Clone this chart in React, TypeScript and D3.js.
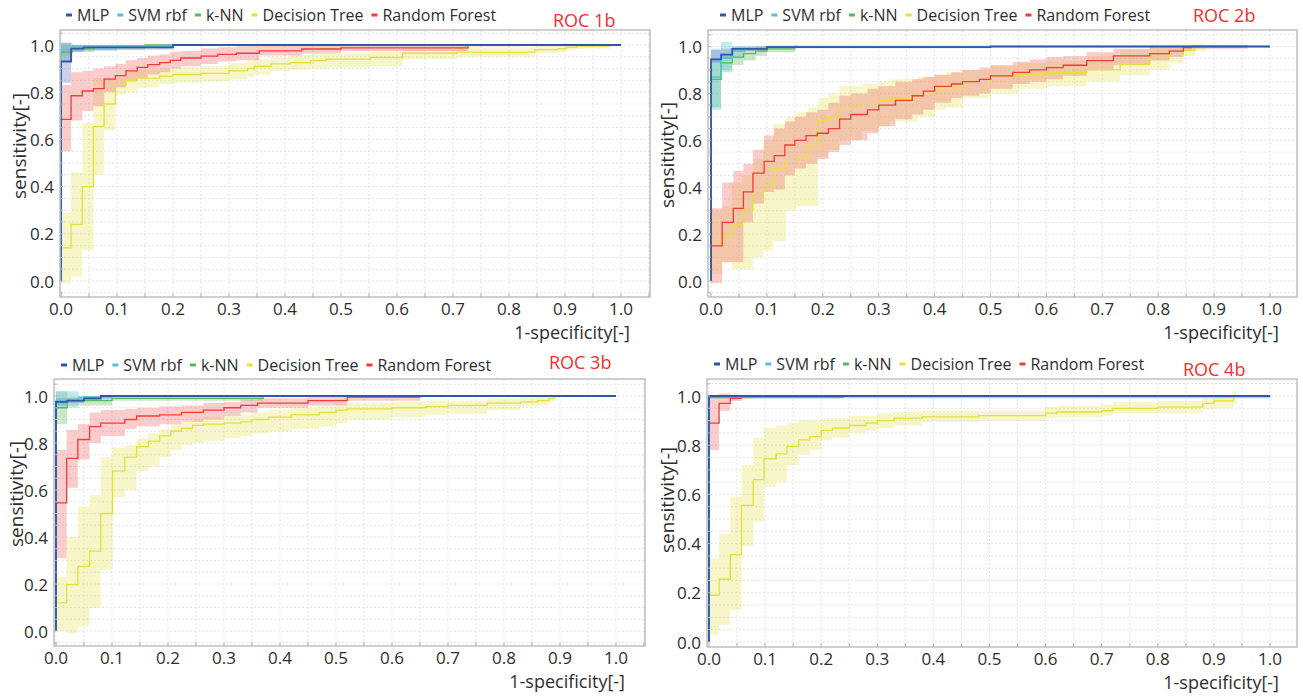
import React from "react";
import * as d3 from "d3";

// Each step: [x (1-specificity) where the step starts, sensitivity, band lower, band upper]
type Step = [number, number, number, number];

const seriesNames = ["MLP", "SVM rbf", "k-NN", "Decision Tree", "Random Forest"];
const lineColors = ["#2f57ab", "#55c3d8", "#5cb85c", "#e2e23a", "#f03c3c"];
const bandColors = ["#6f7fc6", "#58c6d6", "#6ec06e", "#e6e66a", "#f07272"];
const panelTitles = ["ROC 1b", "ROC 2b", "ROC 3b", "ROC 4b"];
const xTickValues = [0, 0.1, 0.2, 0.3, 0.4, 0.5, 0.6, 0.7, 0.8, 0.9, 1.0];
const yTickValues = [0, 0.2, 0.4, 0.6, 0.8, 1.0];
const xAxisTitle = "1-specificity[-]";
const yAxisTitle = "sensitivity[-]";

// ---------- ROC 1b ----------
const roc1MLP: Step[] = [
  [0, 0.93, 0.84, 1.01], [0.018, 0.985, 0.97, 1.0], [0.04, 0.99, 0.98, 1.0], [0.2, 1.0, 1.0, 1.0], [1.0, 1.0, 1.0, 1.0],
];
const roc1SVM: Step[] = [
  [0, 0.98, 0.955, 1.01], [0.02, 0.99, 0.975, 1.0], [0.1, 0.995, 0.99, 1.0], [0.2, 1.0, 1.0, 1.0], [0.6, 1.0, 1.0, 1.0],
];
const roc1KNN: Step[] = [
  [0, 0.97, 0.93, 1.0], [0.02, 0.985, 0.97, 1.0], [0.06, 0.99, 0.98, 1.0], [0.15, 1.0, 1.0, 1.0], [0.3, 1.0, 1.0, 1.0],
];
const roc1DT: Step[] = [
  [0, 0.14, -0.01, 0.29], [0.018, 0.24, 0.02, 0.46], [0.038, 0.4, 0.13, 0.67], [0.058, 0.655, 0.45, 0.86],
  [0.077, 0.75, 0.64, 0.86], [0.097, 0.83, 0.79, 0.87], [0.116, 0.85, 0.8, 0.89], [0.136, 0.86, 0.82, 0.895],
  [0.176, 0.868, 0.835, 0.9], [0.2, 0.875, 0.84, 0.905], [0.25, 0.88, 0.845, 0.91], [0.3, 0.89, 0.855, 0.925],
  [0.333, 0.9, 0.865, 0.935], [0.345, 0.91, 0.875, 0.94], [0.375, 0.92, 0.89, 0.95], [0.41, 0.925, 0.895, 0.96],
  [0.446, 0.934, 0.9, 0.965], [0.473, 0.94, 0.905, 0.965], [0.553, 0.947, 0.91, 0.97], [0.61, 0.965, 0.94, 0.985],
  [0.707, 0.97, 0.95, 0.99], [0.846, 0.98, 0.965, 0.995], [0.888, 0.985, 0.97, 1.0], [0.903, 0.99, 0.98, 1.0],
  [0.921, 0.995, 0.985, 1.0], [0.98, 1.0, 1.0, 1.0],
];
const roc1RF: Step[] = [
  [0, 0.685, 0.55, 0.83], [0.018, 0.785, 0.68, 0.885], [0.038, 0.805, 0.72, 0.89], [0.058, 0.815, 0.74, 0.9],
  [0.077, 0.855, 0.8, 0.91], [0.097, 0.87, 0.82, 0.92], [0.116, 0.89, 0.845, 0.935], [0.136, 0.905, 0.86, 0.945],
  [0.155, 0.917, 0.875, 0.955], [0.176, 0.925, 0.885, 0.96], [0.195, 0.935, 0.9, 0.97], [0.214, 0.945, 0.91, 0.975],
  [0.25, 0.953, 0.92, 0.985], [0.28, 0.96, 0.93, 0.99], [0.313, 0.965, 0.935, 0.995], [0.354, 0.975, 0.955, 1.0],
  [0.43, 0.983, 0.965, 1.0], [0.5, 0.988, 0.975, 1.0], [0.727, 1.0, 0.995, 1.0], [0.82, 1.0, 1.0, 1.0],
];

// ---------- ROC 2b ----------
const roc2MLP: Step[] = [
  [0, 0.945, 0.93, 0.985], [0.018, 0.965, 0.95, 0.99], [0.038, 0.99, 0.98, 1.0], [0.1, 0.997, 0.993, 1.0], [0.5, 1.0, 1.0, 1.0], [1.0, 1.0, 1.0, 1.0],
];
const roc2SVM: Step[] = [
  [0, 0.87, 0.73, 0.99], [0.018, 0.95, 0.9, 1.02], [0.038, 0.98, 0.95, 1.0], [0.06, 0.99, 0.98, 1.0], [0.1, 1.0, 1.0, 1.0], [1.0, 1.0, 1.0, 1.0],
];
const roc2KNN: Step[] = [
  [0, 0.86, 0.74, 0.95], [0.018, 0.93, 0.89, 0.97], [0.038, 0.955, 0.92, 0.99], [0.058, 0.97, 0.94, 0.995],
  [0.08, 0.98, 0.96, 1.0], [0.1, 0.99, 0.975, 1.0], [0.15, 1.0, 1.0, 1.0], [0.155, 1.0, 1.0, 1.0],
];
const roc2DT: Step[] = [
  [0, 0.17, 0.03, 0.3], [0.02, 0.2, 0.08, 0.32], [0.037, 0.24, 0.05, 0.42], [0.056, 0.305, 0.05, 0.45],
  [0.075, 0.365, 0.1, 0.52], [0.093, 0.405, 0.13, 0.6], [0.111, 0.48, 0.17, 0.67], [0.134, 0.51, 0.3, 0.7],
  [0.152, 0.52, 0.32, 0.72], [0.173, 0.585, 0.32, 0.74], [0.192, 0.685, 0.53, 0.78], [0.21, 0.7, 0.56, 0.8],
  [0.23, 0.74, 0.6, 0.83], [0.27, 0.75, 0.64, 0.84], [0.3, 0.77, 0.66, 0.85], [0.32, 0.78, 0.68, 0.86],
  [0.37, 0.8, 0.7, 0.87], [0.4, 0.82, 0.73, 0.88], [0.42, 0.83, 0.74, 0.89], [0.45, 0.85, 0.78, 0.9],
  [0.5, 0.87, 0.8, 0.92], [0.55, 0.88, 0.82, 0.93], [0.6, 0.89, 0.83, 0.94], [0.672, 0.9, 0.85, 0.96],
  [0.732, 0.925, 0.877, 0.985], [0.785, 0.955, 0.9, 1.005], [0.82, 0.97, 0.93, 1.008], [0.845, 0.985, 0.96, 1.01],
  [0.866, 1.0, 0.98, 1.01], [0.885, 1.0, 1.0, 1.0],
];
const roc2RF: Step[] = [
  [0, 0.15, -0.01, 0.31], [0.02, 0.25, 0.08, 0.42], [0.04, 0.31, 0.08, 0.47], [0.058, 0.38, 0.25, 0.5],
  [0.075, 0.46, 0.33, 0.56], [0.095, 0.51, 0.38, 0.62], [0.113, 0.535, 0.39, 0.65], [0.132, 0.58, 0.45, 0.68],
  [0.15, 0.6, 0.48, 0.7], [0.17, 0.62, 0.5, 0.72], [0.19, 0.63, 0.52, 0.73], [0.21, 0.65, 0.55, 0.76],
  [0.23, 0.69, 0.58, 0.79], [0.25, 0.71, 0.6, 0.8], [0.28, 0.73, 0.63, 0.82], [0.3, 0.75, 0.66, 0.83],
  [0.33, 0.77, 0.69, 0.85], [0.36, 0.79, 0.71, 0.86], [0.38, 0.81, 0.73, 0.87], [0.4, 0.83, 0.76, 0.88],
  [0.43, 0.84, 0.78, 0.89], [0.45, 0.85, 0.79, 0.9], [0.48, 0.86, 0.8, 0.91], [0.5, 0.875, 0.82, 0.92],
  [0.54, 0.89, 0.84, 0.935], [0.57, 0.9, 0.85, 0.945], [0.6, 0.91, 0.86, 0.955], [0.63, 0.92, 0.875, 0.96],
  [0.672, 0.94, 0.9, 0.975], [0.72, 0.96, 0.92, 0.99], [0.785, 0.97, 0.94, 1.0], [0.82, 0.98, 0.955, 1.0],
  [0.845, 0.995, 0.98, 1.0], [0.86, 1.0, 0.99, 1.005], [0.96, 1.0, 1.0, 1.0],
];

// ---------- ROC 3b ----------
const roc3MLP: Step[] = [
  [0, 0.975, 0.96, 0.99], [0.02, 0.98, 0.97, 0.99], [0.05, 0.99, 0.98, 1.0], [0.08, 1.0, 1.0, 1.0], [1.0, 1.0, 1.0, 1.0],
];
const roc3SVM: Step[] = [
  [0, 0.98, 0.95, 1.02], [0.04, 0.995, 0.985, 1.0], [0.1, 1.0, 1.0, 1.0], [0.9, 1.0, 1.0, 1.0],
];
const roc3KNN: Step[] = [
  [0, 0.95, 0.88, 1.02], [0.02, 0.98, 0.96, 0.995], [0.1, 0.99, 0.98, 1.0], [0.37, 0.995, 0.99, 1.0],
];
const roc3DT: Step[] = [
  [0, 0.12, 0.0, 0.23], [0.019, 0.197, -0.01, 0.4], [0.039, 0.275, 0.02, 0.53], [0.06, 0.34, 0.1, 0.58],
  [0.08, 0.5, 0.26, 0.74], [0.101, 0.68, 0.57, 0.78], [0.123, 0.74, 0.6, 0.79], [0.144, 0.785, 0.68, 0.82],
  [0.165, 0.808, 0.7, 0.84], [0.185, 0.83, 0.74, 0.86], [0.205, 0.85, 0.77, 0.88], [0.224, 0.862, 0.79, 0.89],
  [0.244, 0.875, 0.8, 0.9], [0.263, 0.88, 0.81, 0.91], [0.3, 0.885, 0.82, 0.915], [0.33, 0.89, 0.83, 0.92],
  [0.35, 0.9, 0.84, 0.93], [0.38, 0.91, 0.85, 0.94], [0.42, 0.92, 0.86, 0.95], [0.47, 0.93, 0.87, 0.955],
  [0.5, 0.94, 0.885, 0.965], [0.52, 0.945, 0.9, 0.97], [0.6, 0.95, 0.91, 0.975], [0.66, 0.955, 0.92, 0.98],
  [0.7, 0.96, 0.925, 0.98], [0.77, 0.97, 0.94, 0.99], [0.83, 0.975, 0.955, 0.995], [0.86, 0.98, 0.96, 1.0],
  [0.88, 0.99, 0.975, 1.0], [0.89, 1.0, 0.99, 1.0], [0.9, 1.0, 1.0, 1.0],
];
const roc3RF: Step[] = [
  [0, 0.545, 0.31, 0.77], [0.019, 0.735, 0.61, 0.855], [0.039, 0.815, 0.73, 0.88], [0.06, 0.87, 0.8, 0.93],
  [0.08, 0.885, 0.83, 0.94], [0.123, 0.9, 0.86, 0.945], [0.144, 0.915, 0.87, 0.95], [0.185, 0.92, 0.88, 0.955],
  [0.224, 0.93, 0.89, 0.96], [0.263, 0.94, 0.9, 0.97], [0.3, 0.95, 0.915, 0.975], [0.33, 0.96, 0.93, 0.985],
  [0.36, 0.97, 0.95, 0.99], [0.45, 0.98, 0.96, 0.995], [0.52, 0.995, 0.98, 1.0], [0.65, 1.0, 1.0, 1.0],
];

// ---------- ROC 4b ----------
const roc4MLP: Step[] = [[0, 1.0, 1.0, 1.0], [1.0, 1.0, 1.0, 1.0]];
const roc4SVM: Step[] = [[0, 0.998, 0.99, 1.0], [1.0, 1.0, 1.0, 1.0]];
const roc4KNN: Step[] = [[0, 0.995, 0.99, 1.0], [0.24, 0.995, 0.99, 1.0]];
const roc4DT: Step[] = [
  [0, 0.19, 0.03, 0.34], [0.018, 0.255, 0.07, 0.44], [0.038, 0.355, 0.13, 0.59], [0.058, 0.555, 0.39, 0.72],
  [0.079, 0.66, 0.49, 0.83], [0.098, 0.745, 0.63, 0.87], [0.12, 0.765, 0.65, 0.88], [0.139, 0.795, 0.72, 0.89],
  [0.16, 0.822, 0.76, 0.9], [0.18, 0.835, 0.78, 0.9], [0.2, 0.86, 0.82, 0.91], [0.22, 0.87, 0.83, 0.91],
  [0.25, 0.88, 0.85, 0.92], [0.28, 0.89, 0.86, 0.92], [0.3, 0.9, 0.87, 0.93], [0.33, 0.91, 0.88, 0.935],
  [0.38, 0.915, 0.895, 0.94], [0.48, 0.92, 0.9, 0.94], [0.6, 0.93, 0.91, 0.955], [0.62, 0.935, 0.915, 0.96],
  [0.7, 0.94, 0.92, 0.965], [0.72, 0.95, 0.93, 0.975], [0.8, 0.955, 0.93, 0.98], [0.88, 0.97, 0.945, 0.99],
  [0.9, 0.98, 0.95, 1.0], [0.935, 1.0, 0.97, 1.02], [0.94, 1.0, 1.0, 1.0],
];
const roc4RF: Step[] = [
  [0, 0.89, 0.78, 1.0], [0.018, 0.97, 0.94, 1.01], [0.038, 0.99, 0.98, 1.005], [0.058, 1.0, 0.99, 1.0], [0.08, 1.0, 1.0, 1.0],
];

const panelSeries: Step[][][] = [
  [roc1MLP, roc1SVM, roc1KNN, roc1DT, roc1RF],
  [roc2MLP, roc2SVM, roc2KNN, roc2DT, roc2RF],
  [roc3MLP, roc3SVM, roc3KNN, roc3DT, roc3RF],
  [roc4MLP, roc4SVM, roc4KNN, roc4DT, roc4RF],
];

// ---------- layout (pixels) ----------
const layouts = [
  { x0: 61, x1: 621, y0: 281, y1: 45, left: 60, right: 650, top: 30, bottom: 297, legendX: 66, legendY: 15, titleX: 553, titleY: 20, yTitleX: 19, yTitleY: 146 },
  { x0: 711, x1: 1270, y0: 281, y1: 46.5, left: 708, right: 1297, top: 30, bottom: 297, legendX: 720, legendY: 15, titleX: 1193, titleY: 15, yTitleX: 667, yTitleY: 155 },
  { x0: 56, x1: 616, y0: 631, y1: 396, left: 54, right: 645, top: 379, bottom: 646, legendX: 61, legendY: 365, titleX: 549, titleY: 362, yTitleX: 16, yTitleY: 494 },
  { x0: 709, x1: 1270, y0: 642, y1: 396, left: 707, right: 1297, top: 379, bottom: 647, legendX: 714, legendY: 364, titleX: 1183, titleY: 369, yTitleX: 667, yTitleY: 500 },
];

const FONT = "'Open Sans', 'Noto Sans', sans-serif";
const TEXT = "#2e2e2e";
const LEGEND_SIZE = 16;

let measureCtx: CanvasRenderingContext2D | null = null;
function textWidth(s: string, size: number) {
  if (!measureCtx) measureCtx = document.createElement("canvas").getContext("2d");
  if (!measureCtx) return s.length * size * 0.55;
  measureCtx.font = `${size}px 'Open Sans'`;
  return measureCtx.measureText(s).width;
}

function Panel({ idx }: { idx: number }) {
  const lay = layouts[idx];
  const series = panelSeries[idx];
  const xs = d3.scaleLinear().domain([0, 1]).range([lay.x0, lay.x1]);
  const ys = d3.scaleLinear().domain([0, 1]).range([lay.y0, lay.y1]);
  const line = d3.line<number[]>().x((d) => xs(d[0])).y((d) => ys(d[1])).curve(d3.curveStepAfter);
  const area = d3
    .area<Step>()
    .x((d) => xs(d[0]))
    .y0((d) => ys(d[2]))
    .y1((d) => ys(d[3]))
    .curve(d3.curveStepAfter);
  const grid = d3.range(-3, 24).map((i) => +(i * 0.05).toFixed(2));
  const vGrid = grid.filter((v) => xs(v) > lay.left + 0.5 && xs(v) < lay.right - 0.5);
  const hGrid = grid.filter((v) => ys(v) > lay.top + 0.5 && ys(v) < lay.bottom - 0.5);
  const clipId = `plotclip${idx}`;
  const order = [3, 4, 2, 1, 0];

  // legend layout
  let cx = lay.legendX;
  const legendItems = seriesNames.map((name, i) => {
    const dashX = cx;
    const textX = cx + 11;
    cx = textX + textWidth(name, LEGEND_SIZE) + 8;
    return { name, i, dashX, textX };
  });

  return (
    <g>
      <defs>
        <clipPath id={clipId}>
          <rect x={lay.left} y={lay.top} width={lay.right - lay.left} height={lay.bottom - lay.top} />
        </clipPath>
      </defs>
      <rect x={lay.left} y={lay.top} width={lay.right - lay.left} height={lay.bottom - lay.top} fill="#ffffff" />
      {vGrid.map((v) => (
        <line key={"vg" + v} x1={xs(v)} x2={xs(v)} y1={lay.top} y2={lay.bottom} stroke="#e3e3e3" strokeWidth={1} strokeDasharray="2,2" />
      ))}
      {hGrid.map((v) => (
        <line key={"hg" + v} x1={lay.left} x2={lay.right} y1={ys(v)} y2={ys(v)} stroke="#e3e3e3" strokeWidth={1} strokeDasharray="2,2" />
      ))}
      <g clipPath={`url(#${clipId})`}>
        {order.map((si) => (
          <path key={"band" + si} d={area(series[si]) || ""} fill={bandColors[si]} fillOpacity={0.36} stroke="none" />
        ))}
        {order.map((si) => {
          const pts: number[][] = [[0, 0], ...series[si].map((s) => [s[0], s[1]])];
          return (
            <path key={"line" + si} d={line(pts) || ""} fill="none" stroke={lineColors[si]} strokeWidth={si === 0 ? 1.8 : 1.3} />
          );
        })}
      </g>
      <rect x={lay.left} y={lay.top} width={lay.right - lay.left} height={lay.bottom - lay.top} fill="none" stroke="#c4c4c4" strokeWidth={1.6} />
      {vGrid.map((v) => (
        <line key={"bt" + v} x1={xs(v)} x2={xs(v)} y1={lay.bottom - 4} y2={lay.bottom} stroke="#b5b5b5" strokeWidth={1} />
      ))}
      {hGrid.map((v) => (
        <line key={"lt" + v} x1={lay.left} x2={lay.left + 3} y1={ys(v)} y2={ys(v)} stroke="#b5b5b5" strokeWidth={1} />
      ))}
      {xTickValues.map((v) => (
        <text key={"xt" + v} x={xs(v)} y={lay.bottom + 11} textAnchor="middle" dominantBaseline="central" fontSize={17} fill={TEXT} fontFamily={FONT}>
          {v.toFixed(1)}
        </text>
      ))}
      {yTickValues.map((v) => (
        <text key={"yt" + v} x={lay.left - 6} y={ys(v)} textAnchor="end" dominantBaseline="central" fontSize={17} fill={TEXT} fontFamily={FONT}>
          {v.toFixed(1)}
        </text>
      ))}
      <text x={lay.x1 + 9} y={lay.bottom + 35} textAnchor="end" dominantBaseline="central" fontSize={18} fill={TEXT} fontFamily={FONT}>
        {xAxisTitle}
      </text>
      <text
        transform={`translate(${lay.yTitleX},${lay.yTitleY}) rotate(-90)`}
        textAnchor="middle"
        dominantBaseline="central"
        fontSize={19}
        fill={TEXT}
        fontFamily={FONT}
      >
        {yAxisTitle}
      </text>
      {legendItems.map((it) => (
        <g key={"lg" + it.i}>
          <rect x={it.dashX} y={lay.legendY - 1.5} width={6} height={3} fill={lineColors[it.i]} />
          <text x={it.textX} y={lay.legendY} dominantBaseline="central" fontSize={LEGEND_SIZE} fill={TEXT} fontFamily={FONT}>
            {it.name}
          </text>
        </g>
      ))}
      <text x={lay.titleX} y={lay.titleY} dominantBaseline="central" fontSize={18} fill="#f52f2f" fontFamily={FONT}>
        {panelTitles[idx]}
      </text>
    </g>
  );
}

export default function App() {
  return (
    <div style={{ position: "absolute", left: 0, top: 0, width: 1303, height: 697, background: "#ffffff" }}>
      <svg width={1303} height={697} style={{ display: "block" }}>
        <rect x={0} y={0} width={1303} height={697} fill="#ffffff" />
        {[0, 1, 2, 3].map((i) => (
          <Panel key={i} idx={i} />
        ))}
      </svg>
    </div>
  );
}
